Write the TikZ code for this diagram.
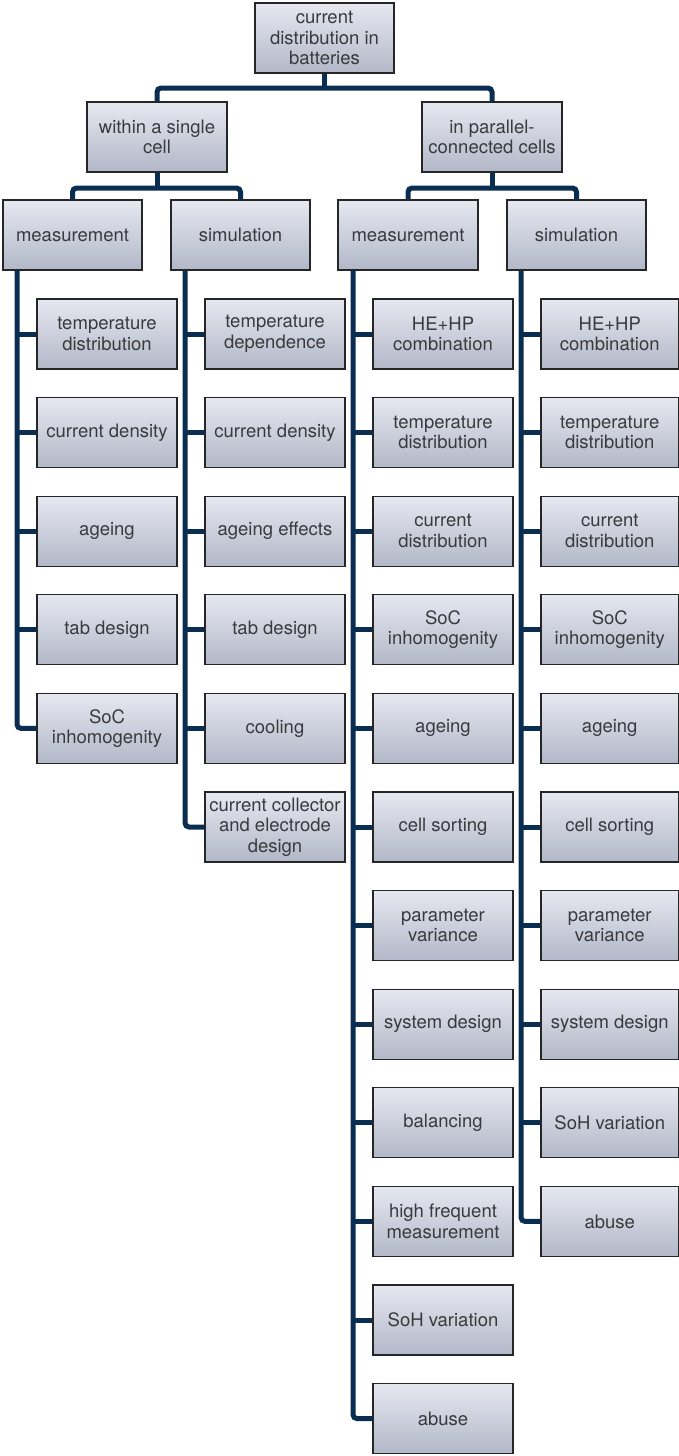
\documentclass[tikz,border=0pt]{standalone}
\usepackage{fontspec}
\setmainfont{TeX Gyre Heros}
\definecolor{boxtop}{RGB}{230,232,240}
\definecolor{boxbot}{RGB}{178,184,200}
\definecolor{boxline}{RGB}{38,38,40}
\definecolor{boxtext}{RGB}{58,58,62}
\definecolor{linkcol}{RGB}{10,46,82}
\tikzset{
  catbox/.style={rectangle, draw=boxline, line width=1.1pt,
    top color=boxtop, bottom color=boxbot,
    minimum width=139pt, minimum height=70pt, inner sep=0pt,
    align=center, text=boxtext,
    font=\fontsize{18.5}{20.5}\selectfont},
  conn/.style={draw=linkcol, line width=5pt, rounded corners=4pt}
}
\begin{document}
\begin{tikzpicture}[x=1pt,y=-1pt]
\useasboundingbox (0,0) rectangle (679,1456);

% top levels
\node[catbox] (root) at (324.5,38) {current\\distribution in\\batteries};
\node[catbox, minimum width=140pt] (single) at (157,137) {within a single\\cell};
\node[catbox, minimum width=140pt] (parallel) at (492,137) {in parallel-\\connected cells};
\node[catbox] (lm) at (72.5,235) {measurement};
\node[catbox] (ls) at (240.5,235) {simulation};
\node[catbox, minimum width=140pt] (rm) at (408,235) {measurement};
\node[catbox] (rs) at (576.5,235) {simulation};

% branch levels
\coordinate (h1) at (0,88);
\coordinate (h2) at (0,188);
\draw[conn] (root.south) -- (root.south |- h1);
\draw[conn] (single.north) -- (single.north |- h1) -- (parallel.north |- h1) -- (parallel.north);
\draw[conn] (single.south) -- (single.south |- h2);
\draw[conn] (lm.north) -- (lm.north |- h2) -- (ls.north |- h2) -- (ls.north);
\draw[conn] (parallel.south) -- (parallel.south |- h2);
\draw[conn] (rm.north) -- (rm.north |- h2) -- (rs.north |- h2) -- (rs.north);

% spines of the leaf columns
\coordinate (spA) at (17,0);
\coordinate (spB) at (185,0);
\coordinate (spC) at (353,0);
\coordinate (spD) at (521,0);

% within a single cell: measurement
\foreach \t [count=\i] in {{temperature\\distribution},{current density},{ageing},{tab design},{SoC\\inhomogenity}}{
  \node[catbox, minimum width=140pt] (lm\i) at (107,{334+98.6*(\i-1)}) {\t};
}
% within a single cell: simulation
\foreach \t [count=\i] in {{temperature\\dependence},{current density},{ageing effects},{tab design},{cooling},{current collector\\and electrode\\design}}{
  \node[catbox, minimum width=140pt] (ls\i) at (275,{334+98.6*(\i-1)}) {\t};
}
% parallel-connected cells: measurement
\foreach \t [count=\i] in {{HE+HP\\combination},{temperature\\distribution},{current\\distribution},{SoC\\inhomogenity},{ageing},{cell sorting},{parameter\\variance},{system design},{balancing},{high frequent\\measurement},{SoH variation},{abuse}}{
  \node[catbox, minimum width=140pt] (rm\i) at (443,{334+98.6*(\i-1)}) {\t};
}
% parallel-connected cells: simulation
\foreach \t [count=\i] in {{HE+HP\\combination},{temperature\\distribution},{current\\distribution},{SoC\\inhomogenity},{ageing},{cell sorting},{parameter\\variance},{system design},{SoH variation},{abuse}}{
  \node[catbox, minimum width=137.5pt] (rs\i) at (609.75,{334+98.6*(\i-1)}) {\t};
}

% spine lines ending in the last leaf
\draw[conn] (lm.south -| spA) |- (lm5.west);
\draw[conn] (ls.south -| spB) |- (ls6.west);
\draw[conn] (rm.south -| spC) |- (rm12.west);
\draw[conn] (rs.south -| spD) |- (rs10.west);

% stubs to the other leaves
\foreach \i in {1,...,4} { \draw[conn] (lm\i.west -| spA) -- (lm\i.west); }
\foreach \i in {1,...,5} { \draw[conn] (ls\i.west -| spB) -- (ls\i.west); }
\foreach \i in {1,...,11} { \draw[conn] (rm\i.west -| spC) -- (rm\i.west); }
\foreach \i in {1,...,9} { \draw[conn] (rs\i.west -| spD) -- (rs\i.west); }
\end{tikzpicture}
\end{document}
